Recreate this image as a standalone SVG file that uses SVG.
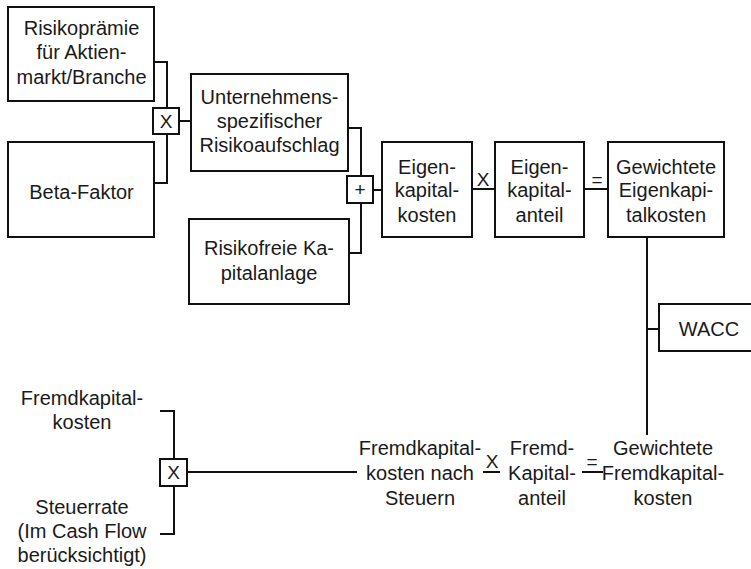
<svg xmlns="http://www.w3.org/2000/svg" width="751" height="569" viewBox="0 0 751 569">
<style>
.box{fill:#fff;stroke:#111;stroke-width:2}
.op{fill:#fff;stroke:#111;stroke-width:2}
.ln{fill:none;stroke:#111;stroke-width:2}
text{font-family:"Liberation Sans",Arial,sans-serif;font-size:20px;fill:#1a1a1a;text-anchor:middle}
.sm{font-size:19px}
</style>
<rect width="751" height="569" fill="#fff"/>
<g id="connectors">
<polyline class="ln" points="154,62 167,62 167,183 154,183"/>
<line class="ln" x1="179" y1="121" x2="191" y2="121"/>
<polyline class="ln" points="348,128 361,128 361,253 349,253"/>
<line class="ln" x1="373" y1="190" x2="382" y2="190"/>
<line class="ln" x1="472" y1="189" x2="495" y2="189"/>
<line class="ln" x1="584" y1="189" x2="608" y2="189"/>
<line class="ln" x1="647" y1="237" x2="647" y2="435"/>
<line class="ln" x1="647" y1="329" x2="659" y2="329"/>
<polyline class="ln" points="160,411 174,411 174,534 160,534"/>
<line class="ln" x1="187" y1="472" x2="357" y2="472"/>
<line class="ln" x1="483" y1="472" x2="500" y2="472"/>
<line class="ln" x1="582" y1="472" x2="603" y2="472"/>
<text class="sm" x="483" y="186">X</text>
<text class="sm" x="597" y="186">=</text>
<text class="sm" x="492" y="468">X</text>
<text class="sm" x="592" y="468">=</text>
</g>
<g id="node-risikopraemie">
<rect class="box" x="8" y="7" width="146" height="94"/>
<text x="81.5" y="35">Risikoprämie</text>
<text x="81.5" y="59">für Aktien-</text>
<text x="81.5" y="84">markt/Branche</text>
</g>
<g id="node-beta">
<rect class="box" x="8" y="142" width="146" height="95"/>
<text x="81.5" y="199">Beta-Faktor</text>
</g>
<g id="op-mult1">
<rect class="op" x="153" y="108" width="26" height="26"/>
<text class="sm" x="166" y="128">X</text>
</g>
<g id="node-unternehmens">
<rect class="box" x="191" y="74" width="157" height="97"/>
<text x="269.5" y="104">Unternehmens-</text>
<text x="269.5" y="128">spezifischer</text>
<text x="269.5" y="152">Risikoaufschlag</text>
</g>
<g id="node-risikofrei">
<rect class="box" x="189" y="219" width="160" height="85"/>
<text x="269" y="255">Risikofreie Ka-</text>
<text x="269" y="280">pitalanlage</text>
</g>
<g id="op-plus">
<rect class="op" x="347" y="176" width="26" height="27"/>
<text class="sm" x="360" y="196">+</text>
</g>
<g id="node-ek-kosten">
<rect class="box" x="382" y="142" width="90" height="95"/>
<text x="427" y="174">Eigen-</text>
<text x="427" y="197">kapital-</text>
<text x="427" y="222">kosten</text>
</g>
<g id="node-ek-anteil">
<rect class="box" x="495" y="142" width="89" height="95"/>
<text x="539.5" y="174">Eigen-</text>
<text x="539.5" y="197">kapital-</text>
<text x="539.5" y="222">anteil</text>
</g>
<g id="node-gew-ek">
<rect class="box" x="608" y="142" width="116" height="95"/>
<text x="666" y="174">Gewichtete</text>
<text x="666" y="197">Eigenkapi-</text>
<text x="666" y="222">talkosten</text>
</g>
<g id="node-wacc">
<rect class="box" x="659" y="304" width="100" height="47"/>
<text x="709" y="336">WACC</text>
</g>
<g id="node-fk-kosten">
<text x="82" y="405">Fremdkapital-</text>
<text x="82" y="429">kosten</text>
</g>
<g id="node-steuerrate">
<text x="82" y="514">Steuerrate</text>
<text x="82" y="538">(Im Cash Flow</text>
<text x="82" y="562">berücksichtigt)</text>
</g>
<g id="op-mult2">
<rect class="op" x="160" y="459" width="27" height="27"/>
<text class="sm" x="173.5" y="479">X</text>
</g>
<g id="node-fk-nach-steuern">
<text x="420" y="455">Fremdkapital-</text>
<text x="420" y="480">kosten nach</text>
<text x="420" y="505">Steuern</text>
</g>
<g id="node-fk-anteil">
<text x="542" y="455">Fremd-</text>
<text x="542" y="480">Kapital-</text>
<text x="542" y="505">anteil</text>
</g>
<g id="node-gew-fk">
<text x="663" y="455">Gewichtete</text>
<text x="663" y="480">Fremdkapital-</text>
<text x="663" y="505">kosten</text>
</g>
</svg>
